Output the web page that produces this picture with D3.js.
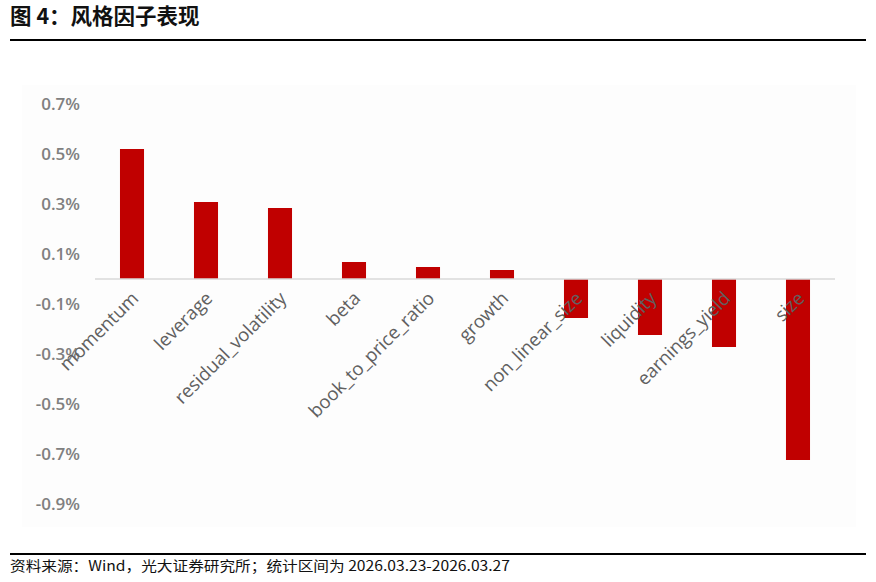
<!DOCTYPE html>
<html><head><meta charset="utf-8">
<script src="https://cdn.jsdelivr.net/npm/d3@7"></script>
<style>body{margin:0;background:#fff}svg{display:block}</style>
</head><body><svg id="c" width="876" height="582"></svg>
<script>
const categories = ["momentum","leverage","residual_volatility","beta","book_to_price_ratio","growth","non_linear_size","liquidity","earnings_yield","size"];
const values = [0.52,0.308,0.284,0.068,0.048,0.036,-0.156,-0.224,-0.272,-0.724];
const tickValues = [0.7,0.5,0.3,0.1,-0.1,-0.3,-0.5,-0.7,-0.9];
const title = "图 4：风格因子表现";
const source = "资料来源：Wind，光大证券研究所；统计区间为 2026.03.23-2026.03.27";

const svg = d3.select("#c");
const cjk = "'Noto Sans CJK SC','Noto Sans',sans-serif";
svg.append("text").attr("x",10).attr("y",24).attr("font-family",cjk).attr("font-weight",700)
  .attr("font-size",21.5).attr("fill","#111").text(title);
svg.append("line").attr("x1",10).attr("x2",866).attr("y1",40).attr("y2",40).attr("stroke","#000").attr("stroke-width",2);

svg.append("rect").attr("x",22).attr("y",85).attr("width",834).attr("height",442).attr("fill","#fdfdfd");

const y = d3.scaleLinear().domain([-0.9,0.7]).range([504,104]);
const x = d3.scaleBand().domain(categories).range([95,835]).paddingInner(0.675).paddingOuter(0.3375);

const yAxis = svg.append("g").attr("transform","translate(86,0)")
  .call(d3.axisLeft(y).tickValues(tickValues).tickSize(0).tickPadding(6).tickFormat(d=>d3.format(".1f")(d).replace("−","-")+"%"));
yAxis.select(".domain").remove();
yAxis.selectAll("text").attr("font-family","'Open Sans','Noto Sans',sans-serif").attr("font-size",17)
  .attr("font-weight",600).attr("fill","#808080");

svg.append("g").selectAll("rect").data(categories).join("rect")
  .attr("x",d=>x(d)).attr("width",x.bandwidth())
  .attr("y",(d,i)=>y(Math.max(0,values[i])))
  .attr("height",(d,i)=>Math.abs(y(values[i])-y(0)))
  .attr("fill","#c00000");

svg.append("line").attr("x1",95).attr("x2",835).attr("y1",y(0)).attr("y2",y(0)).attr("stroke","#d9d9d9").attr("stroke-width",1.5);

svg.append("g").selectAll("text").data(categories).join("text")
  .attr("transform",d=>`translate(${x(d)+x.bandwidth()/2+3},${y(0)+16}) rotate(-45)`)
  .attr("text-anchor","end").attr("dy","0.35em")
  .attr("font-family","'Open Sans','Noto Sans',sans-serif").attr("font-size",18.5)
  .attr("font-weight",500).attr("fill","#606060")
  .text(d=>d);

svg.append("line").attr("x1",10).attr("x2",866).attr("y1",554).attr("y2",554).attr("stroke","#000").attr("stroke-width",2);
svg.append("text").attr("x",10).attr("y",571).attr("font-family",cjk).attr("font-size",14)
  .attr("fill","#111").attr("textLength",500).attr("lengthAdjust","spacingAndGlyphs").text(source);
</script></body></html>
